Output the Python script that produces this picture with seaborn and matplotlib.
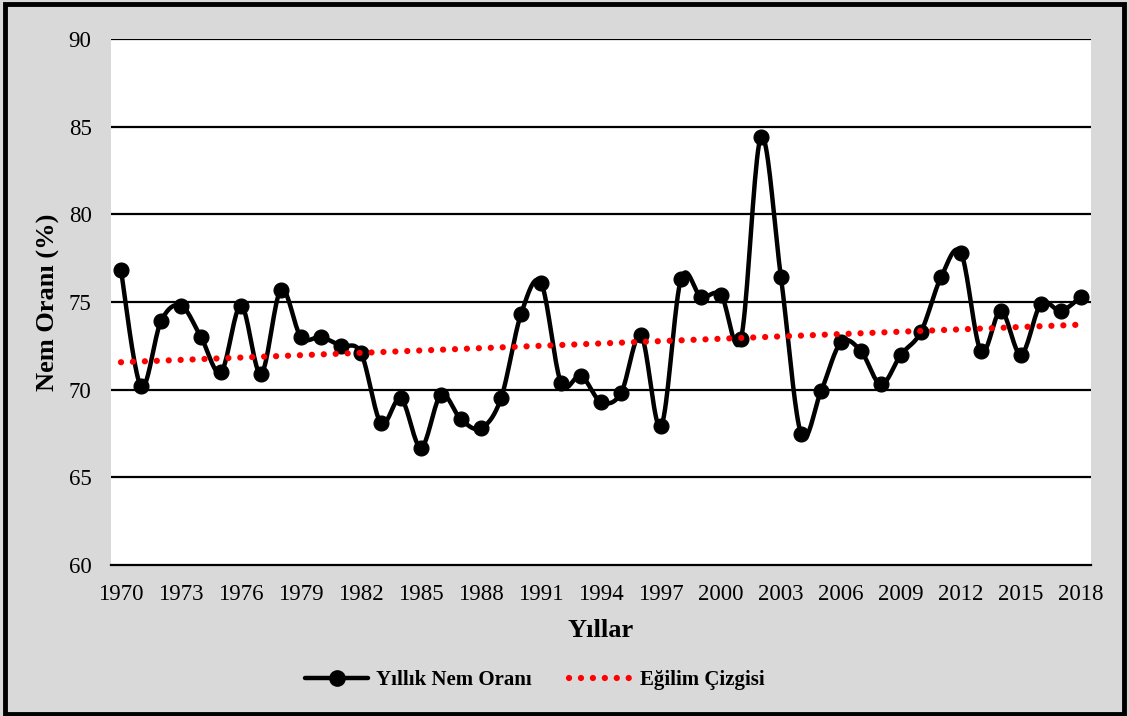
import numpy as np
import pandas as pd
import seaborn as sns
import matplotlib.pyplot as plt
from matplotlib.lines import Line2D
from matplotlib.patches import Rectangle

sns.set_style('white')
plt.rcParams['font.family'] = ['Liberation Serif', 'DejaVu Serif']
plt.rcParams['text.color'] = 'black'
plt.rcParams['axes.labelcolor'] = 'black'

# yearly humidity values
years = list(range(1970, 2019))
humidity = [76.8, 70.2, 73.9, 74.8, 73.0, 71.0, 74.8, 70.9, 75.7, 73.0,
             73.0, 72.5, 72.1, 68.1, 69.5, 66.7, 69.7, 68.3, 67.8, 69.5,
             74.3, 76.1, 70.4, 70.8, 69.3, 69.8, 73.1, 67.9, 76.3, 75.3,
             75.4, 72.9, 84.4, 76.4, 67.5, 69.9, 72.7, 72.2, 70.3, 72.0,
             73.3, 76.4, 77.8, 72.2, 74.5, 72.0, 74.9, 74.5, 75.3]
tick_years = list(range(1970, 2019, 3))
y_ticks = [60, 65, 70, 75, 80, 85, 90]

df = pd.DataFrame({'year': years, 'value': humidity})


def smooth_curve(x, y, n=20):
    # Excel style smoothing: cubic bezier with catmull-rom control points
    x = np.asarray(x, float)
    y = np.asarray(y, float)
    px = np.concatenate([[x[0]], x, [x[-1]]])
    py = np.concatenate([[y[0]], y, [y[-1]]])
    xs, ys = [], []
    t = np.linspace(0, 1, n, endpoint=False)
    for i in range(1, len(px) - 2):
        p0 = np.array([px[i], py[i]])
        p3 = np.array([px[i + 1], py[i + 1]])
        c1 = p0 + (p3 - np.array([px[i - 1], py[i - 1]])) / 6
        c2 = p3 - (np.array([px[i + 2], py[i + 2]]) - p0) / 6
        b = ((1 - t) ** 3)[:, None] * p0 + (3 * (1 - t) ** 2 * t)[:, None] * c1 \
            + (3 * (1 - t) * t ** 2)[:, None] * c2 + (t ** 3)[:, None] * p3
        xs.extend(b[:, 0])
        ys.extend(b[:, 1])
    xs.append(x[-1])
    ys.append(y[-1])
    return np.array(xs), np.array(ys)


sx, sy = smooth_curve(df['year'], df['value'])
slope, intercept = np.polyfit(df['year'], df['value'], 1)
trend = slope * df['year'] + intercept

fig = plt.figure(figsize=(11.29, 7.16), dpi=100, facecolor='#d9d9d9')
ax = fig.add_axes([0.0983, 0.2109, 0.868, 0.7346])
ax.set_facecolor('white')

for v in y_ticks[1:]:
    ax.axhline(v, color='black', lw=1.6, zorder=1)

sns.lineplot(x=sx, y=sy, ax=ax, color='black', lw=3.2, zorder=3, estimator=None, sort=False)
sns.scatterplot(x='year', y='value', data=df, ax=ax, color='black', s=115,
                edgecolor='black', zorder=4)
ax.plot(df['year'], trend, color='red', lw=4.5, linestyle=(0, (0.01, 1.9)),
        dash_capstyle='round', zorder=5)

ax.set_xlim(1969.5, 2018.5)
ax.set_ylim(60, 90)
ax.set_xticks(tick_years)
ax.set_yticks(y_ticks)
ax.tick_params(axis='both', length=0, labelsize=16.5, colors='black', pad=14)
for s in ['top', 'right', 'left']:
    ax.spines[s].set_visible(False)
ax.spines['bottom'].set_color('black')
ax.spines['bottom'].set_linewidth(1.6)

ax.set_xlabel('Yıllar', fontsize=19, fontweight='bold', labelpad=10)
ax.set_ylabel('Nem Oranı (%)', fontsize=19, fontweight='bold', labelpad=6)

handles = [Line2D([0], [0], color='black', lw=3.2, marker='o', markersize=11),
           Line2D([0], [0], color='red', lw=4.5, linestyle=(0, (0.01, 1.9)),
                  dash_capstyle='round')]
fig.legend(handles, ['Yıllık Nem Oranı', 'Eğilim Çizgisi'], loc='center',
           bbox_to_anchor=(0.474, 0.05), ncol=2, frameon=False, handlelength=3.0,
           handletextpad=0.4, columnspacing=1.8,
           prop={'size': 15, 'weight': 'bold'})

fig.patches.append(Rectangle((0.004, 0.003), 0.992, 0.992, transform=fig.transFigure,
                             fill=False, edgecolor='black', lw=3.5))

fig.savefig('out.png', dpi=100, facecolor=fig.get_facecolor())
plt.close()
